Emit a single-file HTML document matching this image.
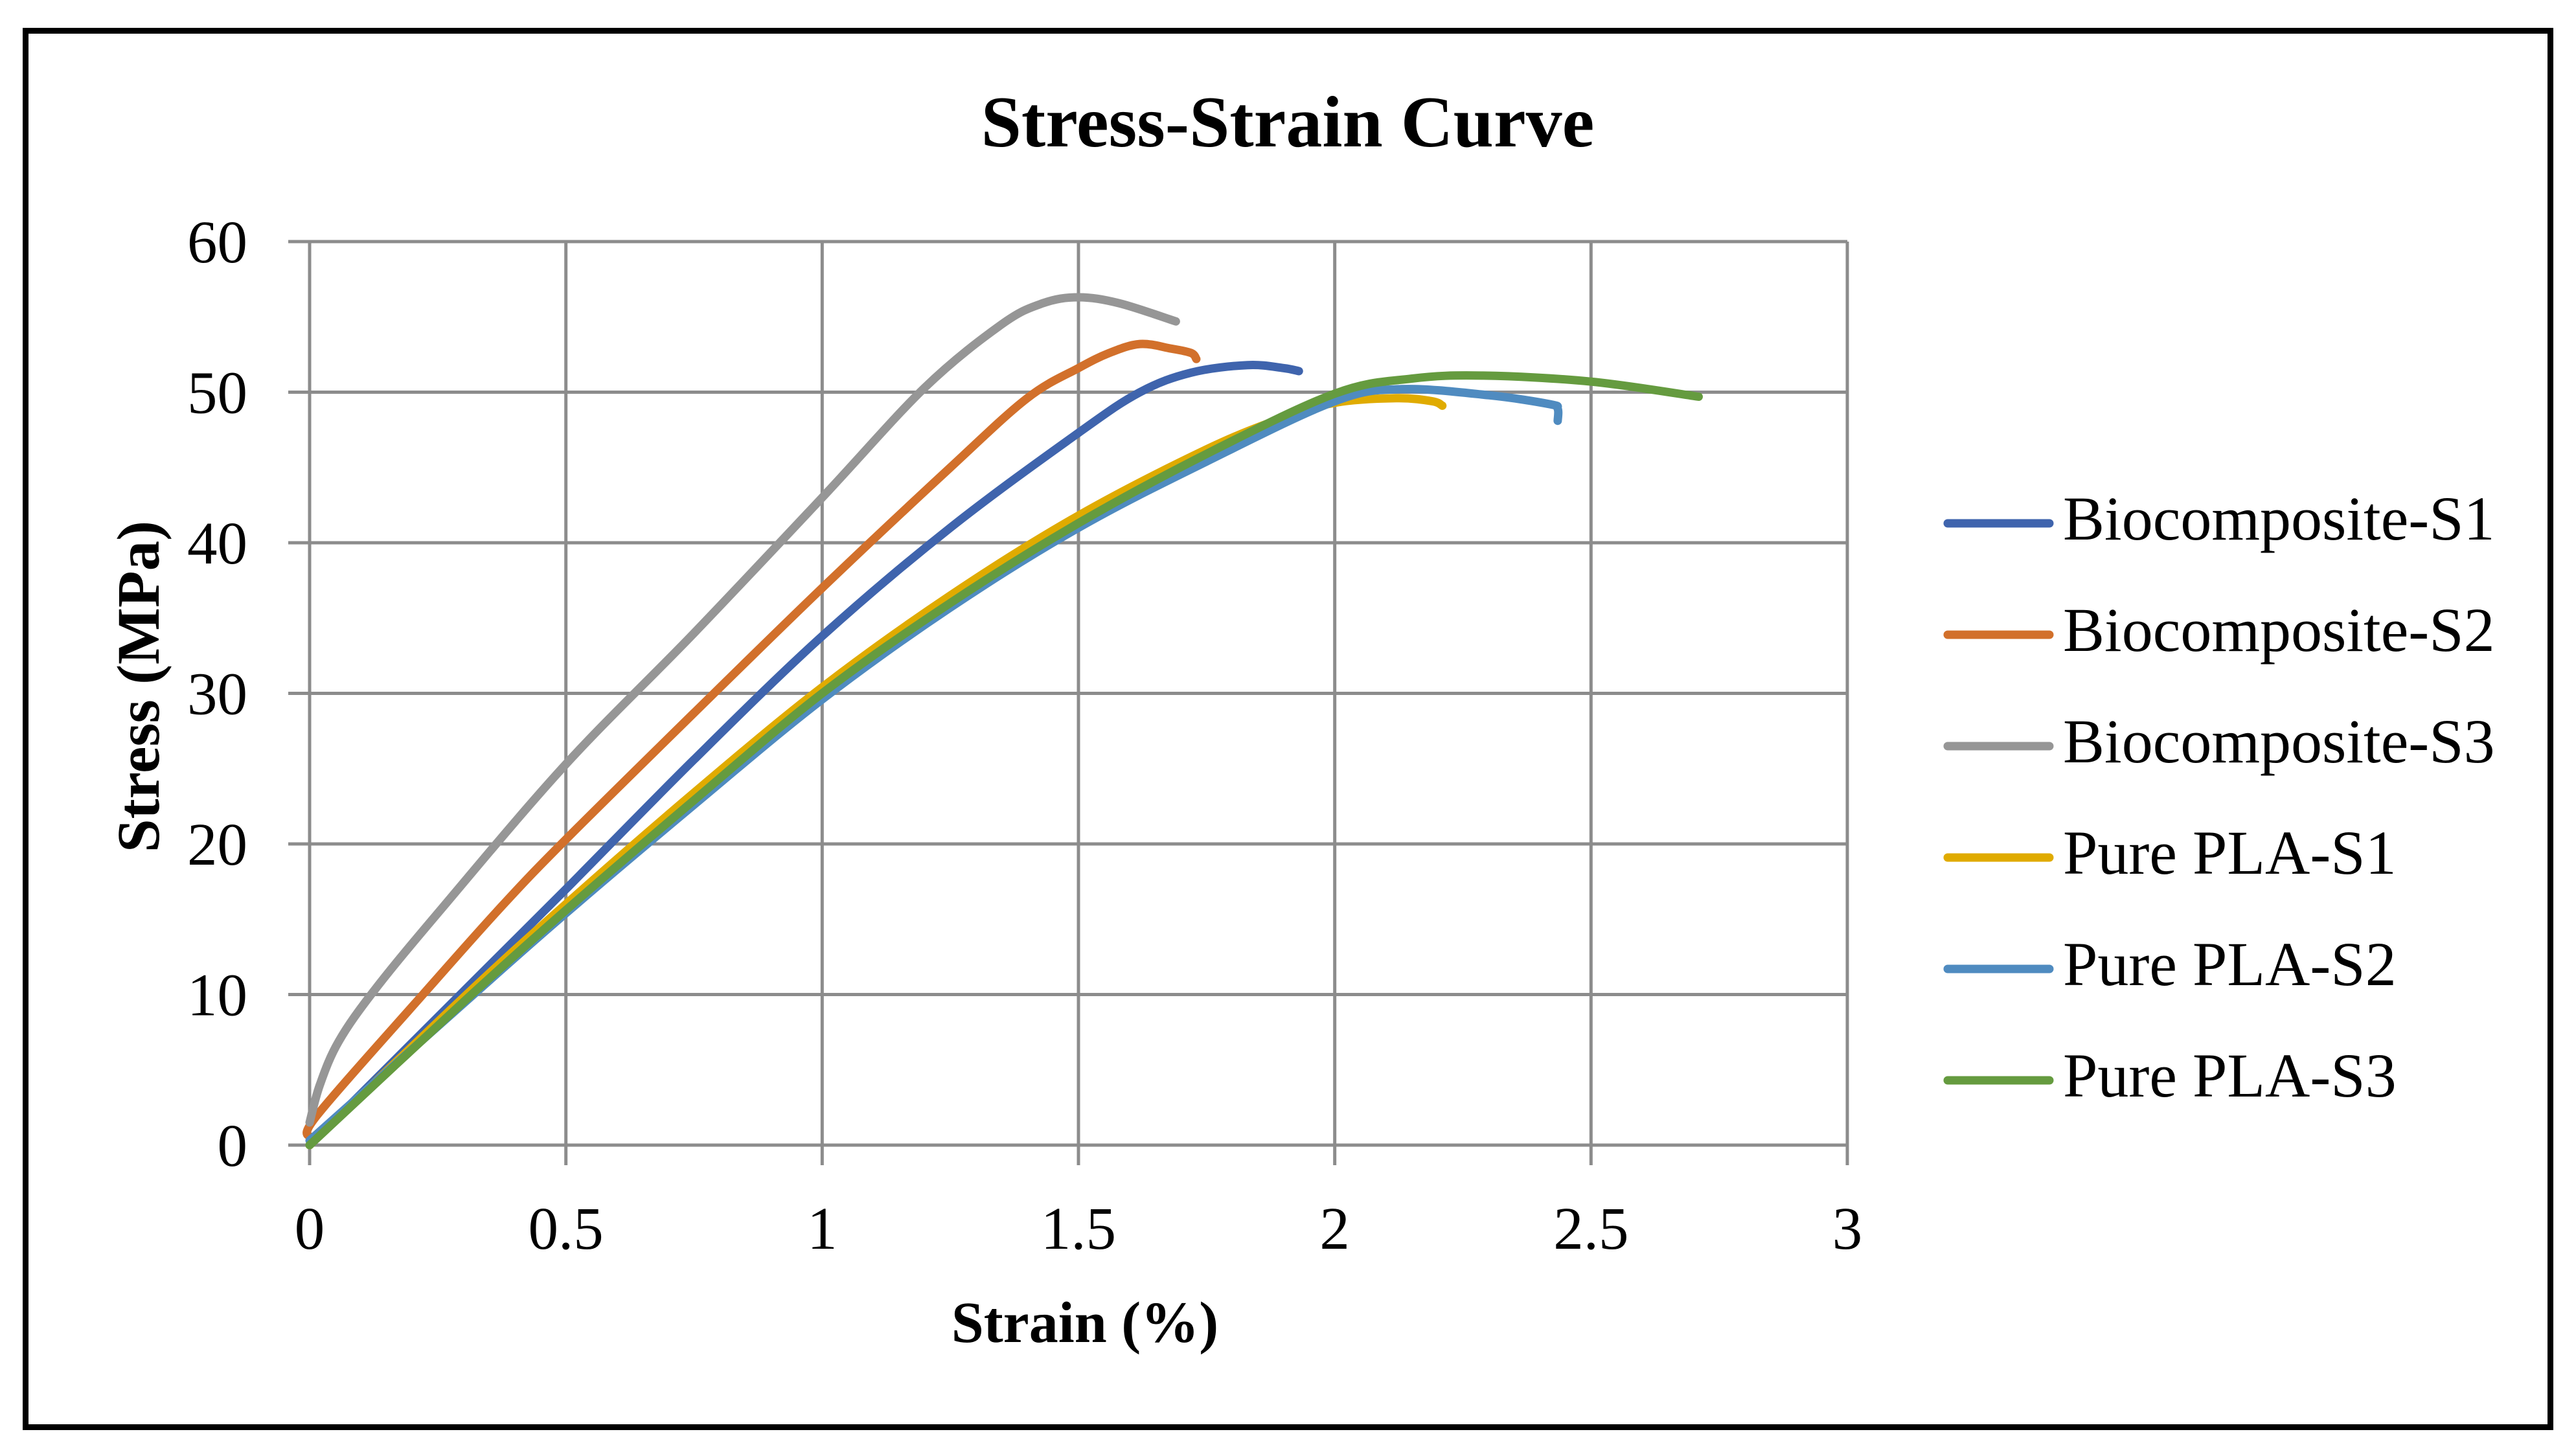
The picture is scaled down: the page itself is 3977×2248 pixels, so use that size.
<!DOCTYPE html>
<html><head><meta charset="utf-8"><style>
html,body{margin:0;padding:0;background:#fff;}
svg{display:block;}
text{font-family:"Liberation Serif",serif;fill:#000;}
</style></head><body>
<svg id="chart" width="3977" height="2248" viewBox="0 0 3977 2248" xmlns="http://www.w3.org/2000/svg">
<rect x="39.5" y="47.5" width="3898" height="2156" fill="#fff" stroke="#000" stroke-width="9"/>
<text x="1988" y="226" font-size="112" font-weight="bold" text-anchor="middle">Stress-Strain Curve</text>
<g id="grid"></g>
<g id="ticks"></g>
<g id="series"></g>
<text x="1675" y="2072" font-size="90" font-weight="bold" text-anchor="middle">Strain (%)</text>
<text x="0" y="0" font-size="93" font-weight="bold" text-anchor="middle" transform="translate(245,1060) rotate(-90)">Stress (MPa)</text>
<g id="legend"></g>
</svg>
<script>
const xTicks = [0, 0.5, 1, 1.5, 2, 2.5, 3];
const xTickLabels = ["0", "0.5", "1", "1.5", "2", "2.5", "3"];
const yTicks = [0, 10, 20, 30, 40, 50, 60];
const yTickLabels = ["0", "10", "20", "30", "40", "50", "60"];
const seriesNames = ["Biocomposite-S1", "Biocomposite-S2", "Biocomposite-S3", "Pure PLA-S1", "Pure PLA-S2", "Pure PLA-S3"];
const bioS1 = [[0,0],[0.3,10.2],[0.5,17],[0.75,25.6],[1,33.8],[1.25,41],[1.5,47.3],[1.62,50.0],[1.72,51.3],[1.83,51.8],[1.9,51.6],[1.93,51.4]];
const bioS2 = [[0,0.5],[0.015,2],[0.221,10],[0.373,15.8],[0.5,20.3],[0.75,28.7],[1,37],[1.25,45],[1.4,49.6],[1.5,51.6],[1.56,52.6],[1.62,53.2],[1.68,52.9],[1.72,52.6],[1.73,52.2]];
const bioS3 = [[0,1.5],[0.02,4],[0.057,6.9],[0.129,10.4],[0.26,15.8],[0.5,25.3],[0.75,34],[1,43],[1.2,50.3],[1.35,54.5],[1.43,55.9],[1.5,56.3],[1.58,55.9],[1.69,54.7]];
const plaS1 = [[0,0],[0.3,9.8],[0.5,16],[0.75,23.4],[1,30.4],[1.25,36.5],[1.5,41.8],[1.75,46.2],[1.9,48.3],[2,49.3],[2.12,49.6],[2.19,49.4],[2.21,49.1]];
const plaS2 = [[0,0.3],[0.3,9.4],[0.5,15.4],[0.75,22.6],[1,29.6],[1.25,35.7],[1.5,41],[1.75,45.4],[2,49.4],[2.13,50.2],[2.3,49.8],[2.42,49.2],[2.435,48.9],[2.435,48.1]];
const plaS3 = [[0,0],[0.3,9.5],[0.5,15.6],[0.75,22.9],[1,30],[1.25,36.0],[1.5,41.3],[1.75,45.9],[2,49.9],[2.15,50.9],[2.29,51.1],[2.5,50.7],[2.71,49.7]];
const seriesColors = ["#3f64ad", "#d2702b", "#969696", "#e0ab00", "#4f8bc0", "#659b3f"];

const NS = "http://www.w3.org/2000/svg";
const X0 = 478, X1 = 2852, Y0 = 1768, Y1 = 373;
const xMin = 0, xMax = 3, yMin = 0, yMax = 60;
function sx(v){ return X0 + (v - xMin) / (xMax - xMin) * (X1 - X0); }
function sy(v){ return Y0 - (v - yMin) / (yMax - yMin) * (Y0 - Y1); }
function mk(tag, attrs, parent){ const e = document.createElementNS(NS, tag); for (const k in attrs) e.setAttribute(k, attrs[k]); parent.appendChild(e); return e; }
function smoothPath(pts){
  const P = pts.map(p => [sx(p[0]), sy(p[1])]);
  let d = 'M' + P[0][0].toFixed(1) + ' ' + P[0][1].toFixed(1);
  for (let i = 0; i < P.length - 1; i++) {
    const p0 = P[i - 1] || P[i], p1 = P[i], p2 = P[i + 1], p3 = P[i + 2] || P[i + 1];
    const t = 1/6;
    const c1 = [p1[0] + (p2[0] - p0[0]) * t, p1[1] + (p2[1] - p0[1]) * t];
    const c2 = [p2[0] - (p3[0] - p1[0]) * t, p2[1] - (p3[1] - p1[1]) * t];
    d += ' C' + c1[0].toFixed(1) + ' ' + c1[1].toFixed(1) + ' ' + c2[0].toFixed(1) + ' ' + c2[1].toFixed(1) + ' ' + p2[0].toFixed(1) + ' ' + p2[1].toFixed(1);
  }
  return d;
}

const grid = document.getElementById('grid');
yTicks.forEach((v, i) => {
  const l = mk('line', {x1: X0 - 33, x2: X1, y1: sy(v), y2: sy(v), stroke: '#8c8c8c', 'stroke-width': 5}, grid);
  
  
});
xTicks.forEach((v, i) => {
  const l = mk('line', {x1: sx(v), x2: sx(v), y1: Y1, y2: Y0 + 31, stroke: '#8c8c8c', 'stroke-width': 5}, grid);
  
  
});

const ticks = document.getElementById('ticks');
yTicks.forEach((v, i) => {
  const t = mk('text', {x: 382, y: sy(v) + 32, 'font-size': 93, 'text-anchor': 'end'}, ticks);
  t.textContent = yTickLabels[i];
  
  
});
xTicks.forEach((v, i) => {
  const t = mk('text', {x: sx(v), y: 1928, 'font-size': 93, 'text-anchor': 'middle'}, ticks);
  t.textContent = xTickLabels[i];
  
  
});

const allSeries = [bioS1, bioS2, bioS3, plaS1, plaS2, plaS3];
const sg = document.getElementById('series');
allSeries.forEach((pts, i) => {
  const path = mk('path', {d: smoothPath(pts), fill: 'none', stroke: seriesColors[i], 'stroke-width': 13, 'stroke-linejoin': 'round', 'stroke-linecap': 'round'}, sg);
  
  
});

const lg = document.getElementById('legend');
seriesNames.forEach((n, i) => {
  const y = 808 + i * 172;
  const g = mk('g', {}, lg);
  
  
  const l = mk('line', {x1: 3007, x2: 3164, y1: y, y2: y, stroke: seriesColors[i], 'stroke-width': 13, 'stroke-linecap': 'round'}, g);
  
  
  const t = mk('text', {x: 3185, y: y + 25, 'font-size': 96}, g);
  t.textContent = n;
  
  
});
</script>
</body></html>
